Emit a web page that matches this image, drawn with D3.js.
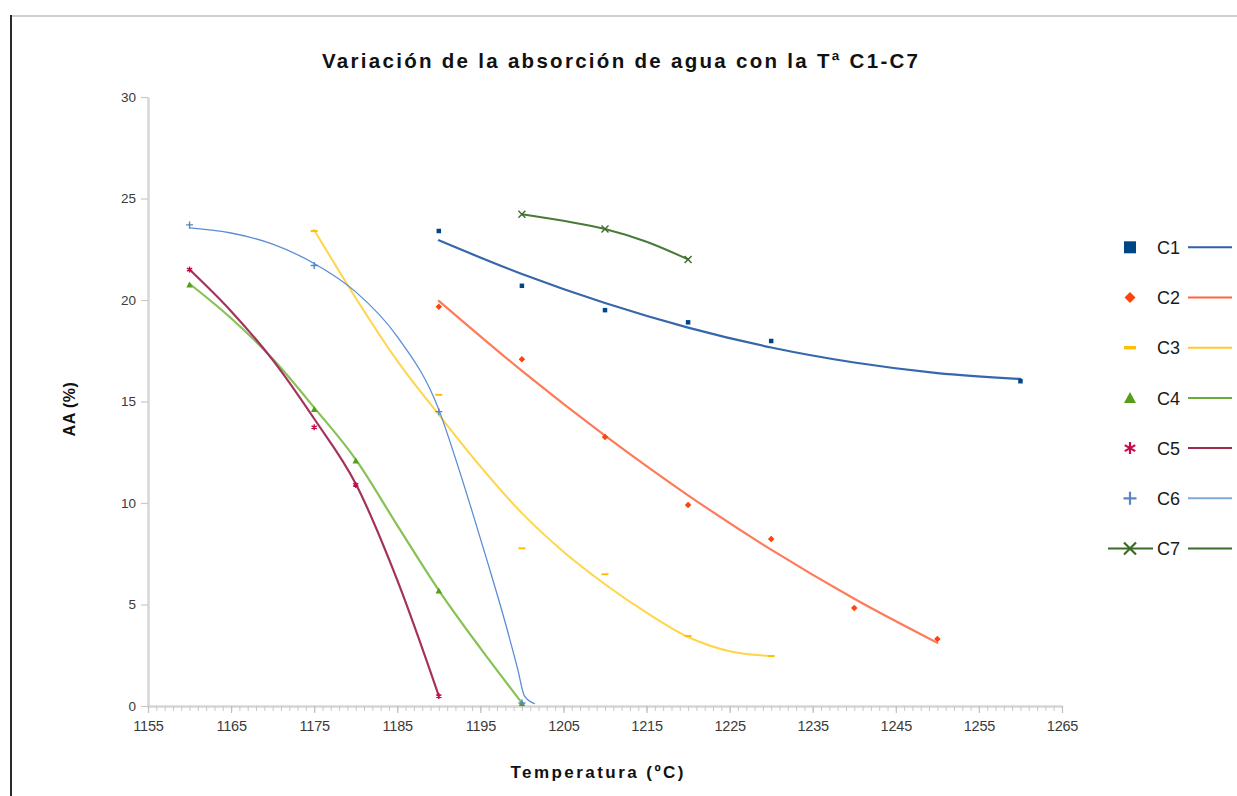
<!DOCTYPE html>
<html>
<head>
<meta charset="utf-8">
<script src="https://cdn.jsdelivr.net/npm/d3@7"></script>
<style>
  html, body { margin: 0; padding: 0; background: #ffffff; }
  svg { display: block; }
  text { font-family: "Liberation Sans", Arial, sans-serif; }
</style>
</head>
<body>
<svg id="chart" width="1237" height="796"></svg>
<script>
// ---- Measured water absorption (AA %) per firing temperature (ºC) ----
const seriesNames = ["C1", "C2", "C3", "C4", "C5", "C6", "C7"];

const c1Temp = [1190, 1200, 1210, 1220, 1230, 1260];
const c1AA   = [23.4, 20.7, 19.5, 18.9, 17.98, 16.0];
const c2Temp = [1190, 1200, 1210, 1220, 1230, 1240, 1250];
const c2AA   = [19.67, 17.08, 13.25, 9.9, 8.23, 4.83, 3.3];
const c3Temp = [1175, 1190, 1200, 1210, 1220, 1230];
const c3AA   = [23.4, 15.33, 7.77, 6.49, 3.45, 2.46];
const c4Temp = [1160, 1175, 1180, 1190, 1200];
const c4AA   = [20.75, 14.62, 12.08, 5.68, 0.13];
const c5Temp = [1160, 1175, 1180, 1190];
const c5AA   = [21.5, 13.73, 10.89, 0.49];
const c6Temp = [1160, 1175, 1190, 1200];
const c6AA   = [23.7, 21.7, 14.5, 0.15];
const c7Temp = [1200, 1210, 1220];
const c7AA   = [24.22, 23.5, 22.0];

// ---- Trend lines (fitted curves) ----
const c1TrendTemp = [1190, 1200, 1210, 1220, 1230, 1240, 1250, 1260];
const c1TrendAA   = [22.94, 21.28, 19.85, 18.64, 17.66, 16.92, 16.40, 16.11];
const c2TrendTemp = [1190, 1200, 1210, 1220, 1230, 1240, 1250];
const c2TrendAA   = [19.96, 16.51, 13.32, 10.38, 7.70, 5.28, 3.11];
const c3TrendTemp = [1175, 1180, 1185, 1190, 1195, 1200, 1205, 1210, 1215, 1220, 1225, 1230];
const c3TrendAA   = [23.45, 20.1, 17.0, 14.35, 11.8, 9.5, 7.6, 6.0, 4.6, 3.4, 2.7, 2.46];
const c4TrendTemp = [1160, 1165, 1170, 1175, 1180, 1185, 1190, 1195, 1200];
const c4TrendAA   = [20.8, 19.1, 17.1, 14.7, 12.15, 8.9, 5.7, 2.85, 0.15];
const c5TrendTemp = [1160, 1165, 1170, 1175, 1180, 1185, 1190];
const c5TrendAA   = [21.5, 19.45, 17.05, 14.15, 10.95, 6.2, 0.5];
const c6TrendTemp = [1160, 1165, 1170, 1175, 1180, 1185, 1190, 1192, 1194, 1196, 1198, 1199.5, 1200.3, 1201.5];
const c6TrendAA   = [23.55, 23.3, 22.75, 21.8, 20.4, 18.2, 14.6, 12.2, 9.6, 6.9, 4.1, 1.8, 0.5, 0.12];
const c7TrendTemp = [1200, 1205, 1210, 1215, 1220];
const c7TrendAA   = [24.22, 23.9, 23.5, 22.87, 22.0];

// ---- Axis ticks ----
const xTicks = [1155, 1165, 1175, 1185, 1195, 1205, 1215, 1225, 1235, 1245, 1255, 1265];
const yTicks = [0, 5, 10, 15, 20, 25, 30];

const chartTitle = "Variación de la absorción de agua con la Tª C1-C7";
const xTitle = "Temperatura (ºC)";
const yTitle = "AA (%)";

// ---- Series table built from the arrays above ----
const zipPts = (xs, ys) => xs.map((t, i) => ({ t, v: ys[i] }));
const series = [
  { name: seriesNames[0], pts: zipPts(c1Temp, c1AA), trend: zipPts(c1TrendTemp, c1TrendAA) },
  { name: seriesNames[1], pts: zipPts(c2Temp, c2AA), trend: zipPts(c2TrendTemp, c2TrendAA) },
  { name: seriesNames[2], pts: zipPts(c3Temp, c3AA), trend: zipPts(c3TrendTemp, c3TrendAA) },
  { name: seriesNames[3], pts: zipPts(c4Temp, c4AA), trend: zipPts(c4TrendTemp, c4TrendAA) },
  { name: seriesNames[4], pts: zipPts(c5Temp, c5AA), trend: zipPts(c5TrendTemp, c5TrendAA) },
  { name: seriesNames[5], pts: zipPts(c6Temp, c6AA), trend: zipPts(c6TrendTemp, c6TrendAA) },
  { name: seriesNames[6], pts: zipPts(c7Temp, c7AA), trend: zipPts(c7TrendTemp, c7TrendAA) }
];

// Visual style per series
const styles = {
  C1: { marker: "square",   color: "#004586", trend: "#3567ab", trendW: 2.2, legendLine: "#2d62a8" },
  C2: { marker: "diamond",  color: "#ff420e", trend: "#ff7a58", trendW: 2.2, legendLine: "#ff6541" },
  C3: { marker: "dash",     color: "#ffbf00", trend: "#ffd54a", trendW: 2.0, legendLine: "#ffc933" },
  C4: { marker: "triangle", color: "#579d1c", trend: "#86c255", trendW: 2.2, legendLine: "#6aab3a" },
  C5: { marker: "asterisk", color: "#c80a4c", trend: "#a3335c", trendW: 2.2, legendLine: "#9c2a48" },
  C6: { marker: "plus",     color: "#5a86c0", trend: "#5a8ed4", trendW: 1.3, legendLine: "#80a9dc" },
  C7: { marker: "times",    color: "#3b6b27", trend: "#4a7a38", trendW: 2.0, legendLine: "#3b6b2a" }
};

// Marker outlines centred on the origin
function markerPath(kind, s) {
  const h = s / 2;
  switch (kind) {
    case "square":   return `M${-h},${-h}h${s}v${s}h${-s}Z`;
    case "diamond":  return `M0,${-h}L${h},0L0,${h}L${-h},0Z`;
    case "dash":     return `M${-h},${-s * 0.14}h${s}v${s * 0.28}h${-s}Z`;
    case "triangle": return `M0,${-h}L${h},${h * 0.85}L${-h},${h * 0.85}Z`;
    case "asterisk": {
      const a = h * 0.87, b = h * 0.5;
      return `M0,${-h}V${h}M${-a},${-b}L${a},${b}M${-a},${b}L${a},${-b}`;
    }
    case "plus":  return `M${-h},0H${h}M0,${-h}V${h}`;
    case "times": return `M${-h},${-h}L${h},${h}M${-h},${h}L${h},${-h}`;
  }
}
const strokedMarkers = new Set(["asterisk", "plus", "times"]);

function drawMarker(sel, kind, color, s, sw) {
  const p = sel.append("path").attr("d", markerPath(kind, s));
  if (strokedMarkers.has(kind)) {
    p.attr("fill", "none").attr("stroke", color).attr("stroke-width", sw);
  } else {
    p.attr("fill", color);
  }
  return p;
}

const svg = d3.select("#chart");

// Page frame
svg.append("line").attr("x1", 10).attr("x2", 1237).attr("y1", 16).attr("y2", 16)
  .attr("stroke", "#cfcfcf").attr("stroke-width", 2);
svg.append("line").attr("x1", 11).attr("x2", 11).attr("y1", 15).attr("y2", 796)
  .attr("stroke", "#2a2a2a").attr("stroke-width", 2);

// Scales
const x = d3.scaleLinear().domain([1155, 1265]).range([148, 1062]);
const y = d3.scaleLinear().domain([0, 30]).range([706, 97]);

// Title
svg.append("text")
  .attr("x", 620).attr("y", 68)
  .attr("text-anchor", "middle")
  .attr("font-size", 20.5).attr("font-weight", "bold")
  .attr("fill", "#111")
  .attr("textLength", 596).attr("lengthAdjust", "spacing")
  .text(chartTitle);

// Y axis
const yAxis = svg.append("g").attr("transform", `translate(${x.range()[0]},0)`)
  .call(d3.axisLeft(y).tickValues(yTicks).tickSize(7).tickSizeOuter(0).tickPadding(5));
yAxis.select(".domain").attr("stroke", "#d6d6d6").attr("stroke-width", 2.5);
yAxis.selectAll(".tick line").attr("stroke", "#c8c8c8").attr("stroke-width", 1.2);
yAxis.selectAll(".tick text")
  .attr("font-size", 13.5).attr("fill", "#3a3a3a")
  .style("font-family", "'Liberation Sans', Arial, sans-serif");

// X axis: minor ticks every degree, labelled major ticks
const xMinor = svg.append("g").attr("transform", `translate(0,${y(0)})`)
  .call(d3.axisBottom(x).tickValues(d3.range(1155, 1266, 1)).tickSize(5).tickSizeOuter(0).tickFormat(""));
xMinor.select(".domain").attr("stroke", "#d6d6d6").attr("stroke-width", 2.5);
xMinor.selectAll(".tick line").attr("stroke", "#c8c8c8").attr("stroke-width", 1);

const xAxis = svg.append("g").attr("transform", `translate(0,${y(0)})`)
  .call(d3.axisBottom(x).tickValues(xTicks).tickSize(7).tickSizeOuter(0).tickPadding(8)
    .tickFormat(d3.format("d")));
xAxis.select(".domain").remove();
xAxis.selectAll(".tick line").attr("stroke", "#c0c0c0").attr("stroke-width", 1.2);
xAxis.selectAll(".tick text")
  .attr("font-size", 14.5).attr("fill", "#3a3a3a")
  .attr("letter-spacing", -0.2)
  .style("font-family", "'Liberation Sans', Arial, sans-serif");

// Axis titles
svg.append("text")
  .attr("x", 597).attr("y", 778)
  .attr("text-anchor", "middle")
  .attr("font-size", 17).attr("font-weight", "bold").attr("fill", "#111")
  .attr("textLength", 173).attr("lengthAdjust", "spacing")
  .text(xTitle);

svg.append("text")
  .attr("transform", "translate(75,409) rotate(-90)")
  .attr("text-anchor", "middle")
  .attr("font-size", 16).attr("font-weight", "bold").attr("fill", "#111")
  .attr("letter-spacing", 0.5)
  .text(yTitle);

// Trend lines
const trendLine = d3.line()
  .x(d => x(d.t))
  .y(d => y(d.v))
  .curve(d3.curveMonotoneX);

const plot = svg.append("g");
series.forEach(s => {
  const st = styles[s.name];
  plot.append("path")
    .datum(s.trend)
    .attr("d", trendLine)
    .attr("fill", "none")
    .attr("stroke", st.trend)
    .attr("stroke-width", st.trendW)
    .attr("stroke-linejoin", "round")
    .attr("stroke-linecap", "round");
});

// Data markers
const plotSizes = { square: 4.5, diamond: 6.5, dash: 7, triangle: 6.5, asterisk: 6, plus: 7, times: 7 };
series.forEach(s => {
  const st = styles[s.name];
  s.pts.forEach(d => {
    const g = plot.append("g").attr("transform", `translate(${x(d.t)},${y(d.v)})`);
    drawMarker(g, st.marker, st.color, plotSizes[st.marker], 1.4);
  });
});

// Legend
const legendSizes = { square: 12, diamond: 11, dash: 12, triangle: 12, asterisk: 12, plus: 13, times: 12 };
const legend = svg.append("g");
series.forEach((s, i) => {
  const st = styles[s.name];
  const cy = 247.3 + i * 50.2;
  const row = legend.append("g").attr("transform", `translate(0,${cy})`);
  if (s.name === "C7") {
    row.append("line").attr("x1", 1108).attr("x2", 1153).attr("y1", 0).attr("y2", 0)
      .attr("stroke", st.legendLine).attr("stroke-width", 2);
  }
  const m = row.append("g").attr("transform", "translate(1130,0)");
  drawMarker(m, st.marker, st.color, legendSizes[st.marker], 2.2);
  row.append("text")
    .attr("x", 1157).attr("y", 6.6)
    .attr("font-size", 18).attr("fill", "#1a1a1a")
    .text(s.name);
  row.append("line").attr("x1", 1188).attr("x2", 1232).attr("y1", 0).attr("y2", 0)
    .attr("stroke", st.legendLine).attr("stroke-width", 2);
});
</script>
</body>
</html>
